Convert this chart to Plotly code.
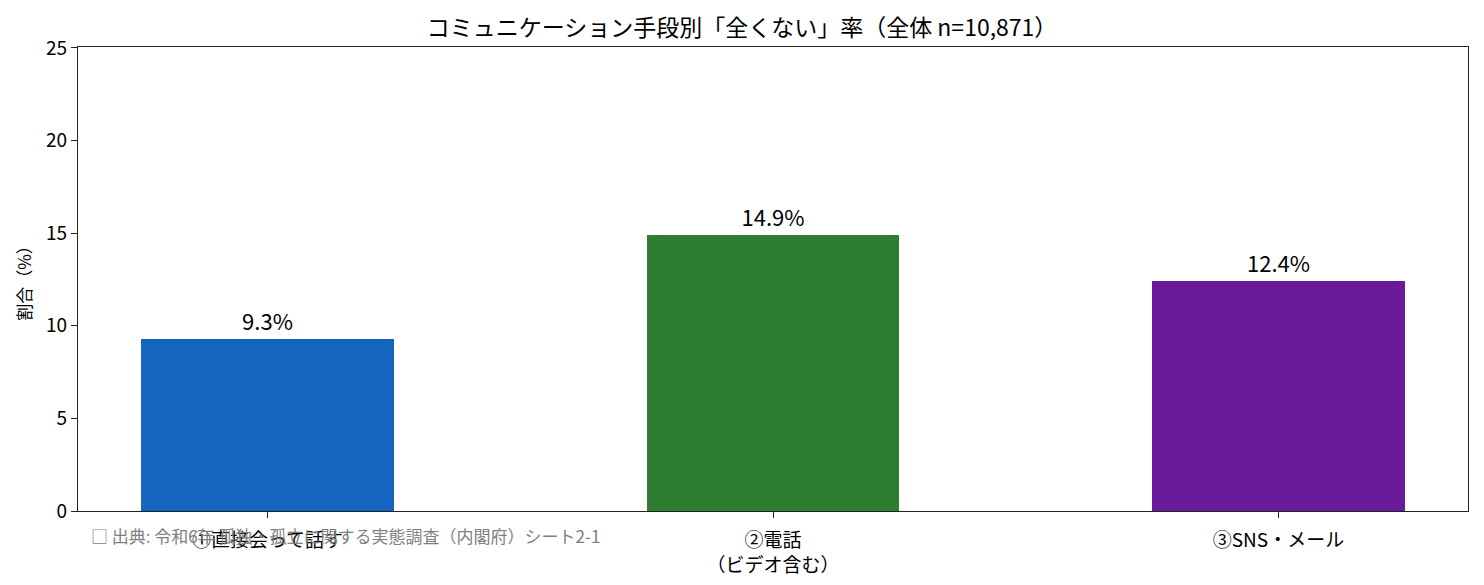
import plotly.graph_objects as go

# data
categories = ["①直接会って話す", "②電話<br>（ビデオ含む）", "③SNS・メール"]
rates = [9.3, 14.9, 12.4]
bar_colors = ["#1565C0", "#2E7D32", "#6A1B9A"]
y_ticks = [0, 5, 10, 15, 20, 25]

FONT = "Noto Sans CJK JP"

fig = go.Figure()
fig.add_trace(go.Bar(
    x=list(range(len(categories))),
    y=rates,
    width=0.5,
    marker_color=bar_colors,
    marker_line_width=0,
    text=[f"{v:.1f}%" for v in rates],
    textposition="outside",
    textfont=dict(family=FONT, size=22, color="black"),
    cliponaxis=False,
))

# page body has an 8px margin, so the figure is a bit smaller than the window
fig.update_layout(
    width=1468, height=569,
    plot_bgcolor="white", paper_bgcolor="white",
    margin=dict(l=70, r=8, t=39, b=66),
    font=dict(family=FONT, size=16, color="black"),
    title=dict(text="コミュニケーション手段別「全くない」率（全体 n=10,871）",
               x=0.5, xanchor="center", y=0.965, yanchor="middle",
               font=dict(family=FONT, size=23, color="black")),
    showlegend=False,
    bargap=0,
)

fig.update_xaxes(
    range=[-0.375, 2.375], automargin=False,
    tickmode="array", tickvals=list(range(len(categories))), ticktext=categories,
    ticks="outside", ticklen=6, tickcolor="#222", showline=True, linecolor="#222",
    linewidth=1.3, mirror=True, showgrid=False, zeroline=False,
    ticklabelstandoff=6,
    tickfont=dict(family=FONT, size=19, color="black"),
)
fig.update_yaxes(
    range=[0, 25.05], automargin=False,
    tickmode="array", tickvals=y_ticks,
    ticks="outside", ticklen=6, tickcolor="#222", showline=True, linecolor="#222",
    linewidth=1.3, mirror=True, showgrid=False, zeroline=False,
    title=dict(text="割合（%）", font=dict(family=FONT, size=17), standoff=10),
    tickfont=dict(family=FONT, size=19, color="black"),
)

fig.add_annotation(
    text="□ 出典: 令和6年 孤独・孤立に関する実態調査（内閣府）シート2-1",
    xref="paper", yref="paper", x=0.008, y=-0.052, xanchor="left", yanchor="middle",
    showarrow=False, font=dict(family=FONT, size=17, color="#808080"),
)

fig.write_html("out.html")
